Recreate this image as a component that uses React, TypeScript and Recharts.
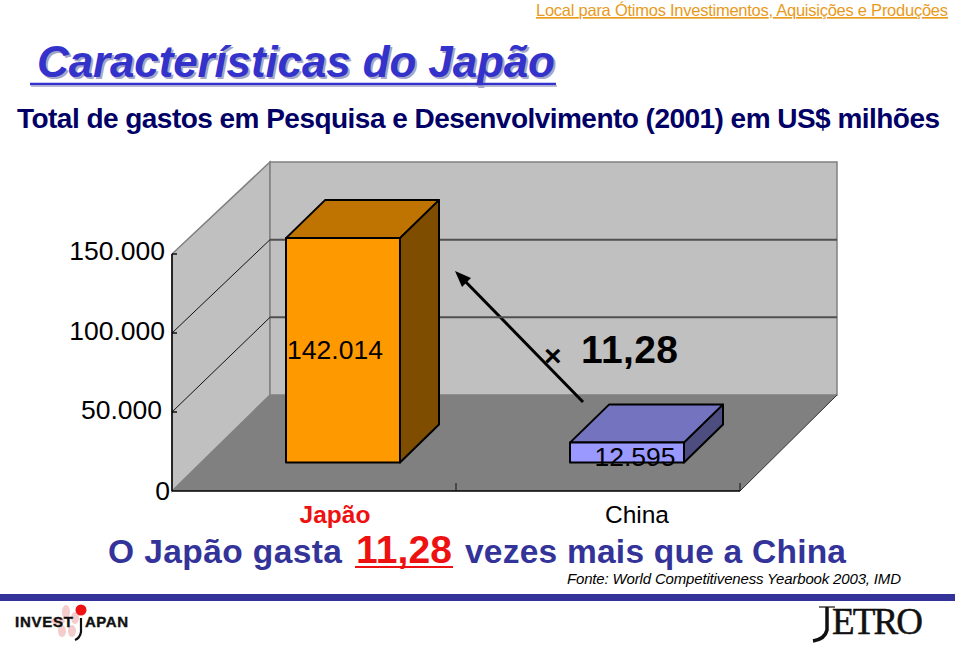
import React from 'react';
import { BarChart, Bar, XAxis, YAxis, CartesianGrid, Customized, LabelList } from 'recharts';

// Values
const countries = ['Japão', 'China'];
const spending = [142014, 12595];
const yTicks = [0, 50000, 100000, 150000];

const chartData = countries.map((name, i) => ({ name, value: spending[i] }));

// Plot box of the front plane, in page pixels
const left = 172;
const right = 740;
const top = 254;
const bottom = 491;
// Back wall of the 3D box
const backLeft = 270;
const backRight = 837;
const backTop = 162;
const backBottom = 395;
// Bars stand part way into the floor
const barDx = 29;
const barDy = -28.5;
// Depth of a bar
const depthX = 39;
const depthY = -38;

const barColors = [
  { front: '#ff9900', topFace: '#bf7300', side: '#7f4d00' },
  { front: '#9999ff', topFace: '#7373bf', side: '#4d4d7f' },
];

const formatNumber = (v: number) => String(v).replace(/\B(?=(\d{3})+(?!\d))/g, '.');

const toBackY = (y: number) => backBottom - ((bottom - y) * (backBottom - backTop)) / (bottom - top);

function Walls() {
  return (
    <g>
      <polygon
        points={`${left},${top} ${backLeft},${backTop} ${backLeft},${backBottom} ${left},${bottom}`}
        fill="#c0c0c0"
        stroke="#808080"
        strokeWidth={1.5}
      />
      <polygon
        points={`${backLeft},${backTop} ${backRight},${backTop} ${backRight},${backBottom} ${backLeft},${backBottom}`}
        fill="#c0c0c0"
        stroke="#808080"
        strokeWidth={1.5}
      />
      <polygon
        points={`${left},${bottom} ${backLeft},${backBottom} ${backRight},${backBottom} ${right},${bottom}`}
        fill="#808080"
      />
      <line x1={right} y1={bottom} x2={backRight} y2={backBottom} stroke="#333" strokeWidth={1} />
    </g>
  );
}

function WallGridLine(props: any) {
  const { y1 } = props;
  if (y1 > bottom - 1) return <g key={props.key} />;
  const isTop = y1 < top + 1;
  const by = toBackY(y1);
  return (
    <g key={props.key}>
      <line x1={left} y1={y1} x2={left + 5} y2={y1} stroke="#111" strokeWidth={1.5} />
      {!isTop && <line x1={left} y1={y1} x2={backLeft} y2={by} stroke="#111" strokeWidth={1} />}
      {!isTop && <line x1={backLeft} y1={by} x2={backRight} y2={by} stroke="#505050" strokeWidth={2} />}
    </g>
  );
}

function Bar3D(props: any) {
  const { x, y, width, height, index } = props;
  const c = barColors[index];
  const fx = x + barDx;
  const fy = y + barDy;
  const fb = fy + height;
  const fr = fx + width;
  return (
    <g stroke="#000" strokeWidth={2} strokeLinejoin="round">
      <polygon
        points={`${fx},${fy} ${fx + depthX},${fy + depthY} ${fr + depthX},${fy + depthY} ${fr},${fy}`}
        fill={c.topFace}
      />
      <polygon
        points={`${fr},${fy} ${fr + depthX},${fy + depthY} ${fr + depthX},${fb + depthY} ${fr},${fb}`}
        fill={c.side}
      />
      <rect x={fx} y={fy} width={width} height={height} fill={c.front} />
    </g>
  );
}

function BarValueLabel(props: any) {
  const { x, y, width, height, value, index } = props;
  const nudge = index === 0 ? -8 : 8;
  return (
    <text
      x={x + barDx + width / 2 + nudge}
      y={y + barDy + height / 2 + (index === 0 ? 9 : 13)}
      textAnchor="middle"
      fontFamily="Liberation Sans"
      fontSize={26.5}
      fill="#000"
    >
      {formatNumber(value)}
    </text>
  );
}

function YTick(props: any) {
  const { y, payload, index } = props;
  const endX = [170, 162, 165, 165][index];
  const dy = [9, 7, 7, 6][index];
  return (
    <text x={endX} y={y + dy} textAnchor="end" fontFamily="Liberation Sans" fontSize={26.5} fill="#000">
      {formatNumber(payload.value)}
    </text>
  );
}

function XTick(props: any) {
  const { x, payload, index } = props;
  const japan = index === 0;
  const bandEdge = x + (right - left) / countries.length / 2;
  return (
    <g>
      <line x1={bandEdge} y1={bottom} x2={bandEdge} y2={bottom - 8} stroke="#111" strokeWidth={1} />
      <text
        x={x + (japan ? 21 : 39)}
        y={523}
        textAnchor="middle"
        fontFamily="Liberation Sans"
        fontSize={24.5}
        fontWeight={japan ? 'bold' : 'normal'}
        fill={japan ? '#ee1111' : '#000'}
      >
        {payload.value}
      </text>
    </g>
  );
}

function Overlay() {
  const navy = '#000066';
  const blue = '#333399';
  const sans = 'Liberation Sans';
  return (
    <g fontFamily={sans}>
      <text x={536} y={16} fontSize={16.5} fill="#e89a1c" textDecoration="underline" textLength={412}>
        Local para Ótimos Investimentos, Aquisições e Produções
      </text>

      <text x={39} y={79} fontSize={44} fontWeight="bold" fontStyle="italic" fill="#a6a6c8" textLength={518}>
        Características do Japão
      </text>
      <text x={37} y={77} fontSize={44} fontWeight="bold" fontStyle="italic" fill="#3333cc" textLength={518}>
        Características do Japão
      </text>
      <line x1={30} y1={84} x2={556} y2={84} stroke="#3333cc" strokeWidth={2.5} />
      <line x1={31} y1={86} x2={557} y2={86} stroke="#a6a6c8" strokeWidth={1.5} />

      <text x={17} y={128} fontSize={28} fontWeight="bold" fill={navy} textLength={923}>
        Total de gastos em Pesquisa e Desenvolvimento (2001) em US$ milhões
      </text>

      <line x1={583} y1={402} x2={460} y2={276} stroke="#000" strokeWidth={3} />
      <polygon points="455,271 471,278 462,287" fill="#000" />
      <text x={544} y={366} fontSize={30} fontWeight="bold" fill="#000">×</text>
      <text x={581} y={363} fontSize={39} fontWeight="bold" fill="#000" textLength={97}>11,28</text>

      <text x={108} y={563} fontSize={33.5} fontWeight="bold" fill={blue} textLength={234}>O Japão gasta</text>
      <text x={356} y={563} fontSize={39} fontWeight="bold" fill="#ee1111" textLength={96}>11,28</text>
      <line x1={355} y1={567} x2={453} y2={567} stroke="#ee1111" strokeWidth={2} />
      <text x={465} y={563} fontSize={33.5} fontWeight="bold" fill={blue} textLength={381}>vezes mais que a China</text>
      <text x={567} y={584} fontSize={15} fontStyle="italic" fill="#000" textLength={334}>
        Fonte: World Competitiveness Yearbook 2003, IMD
      </text>

      <rect x={0} y={594} width={955} height={7} fill={blue} />

      {/* INVEST JAPAN logo */}
      <ellipse cx={66} cy={612} rx={4} ry={7} fill="#f5cccc" />
      <ellipse cx={75} cy={618} rx={4} ry={6} fill="#f5cccc" />
      <ellipse cx={58} cy={621} rx={7} ry={4} fill="#f5cccc" />
      <ellipse cx={62} cy={631} rx={4} ry={6} fill="#f5cccc" />
      <ellipse cx={72} cy={631} rx={4} ry={6} fill="#f5cccc" />
      <circle cx={81} cy={610} r={5.5} fill="#ee1111" />
      <text x={15} y={627} fontSize={15} fontWeight="bold" fill="#111" stroke="#111" strokeWidth={0.4} textLength={58}>INVEST</text>
      <path d="M81,618 L81,632 Q80,638 75,640" fill="none" stroke="#111" strokeWidth={2.2} />
      <text x={85} y={627} fontSize={15} fontWeight="bold" fill="#111" stroke="#111" strokeWidth={0.4} textLength={43}>APAN</text>

      {/* JETRO logo */}
      <path d="M827,607 L827,630 Q825,639 813,641" fill="none" stroke="#111" strokeWidth={3.5} />
      <line x1={819} y1={607} x2={835} y2={607} stroke="#111" strokeWidth={1.2} />
      <text x={832} y={634} fontFamily="Liberation Serif" fontSize={37} fill="#111" stroke="#111" strokeWidth={0.5} textLength={91}>ETRO</text>
    </g>
  );
}

export default function App() {
  return (
    <div style={{ position: 'absolute', left: 0, top: 0, width: 960, height: 645, background: '#fff' }}>
      <BarChart
        width={960}
        height={645}
        data={chartData}
        margin={{ top, right: 960 - right, bottom: 0, left: 0 }}
        barSize={114}
      >
        <Customized component={Walls} />
        {/* the grid sits below everything by default, lift it above the wall polygons */}
        <CartesianGrid vertical={false} horizontal={WallGridLine} zIndex={50} />
        <YAxis
          domain={[0, 150000]}
          ticks={yTicks}
          width={left}
          interval={0}
          axisLine={{ stroke: '#000', strokeWidth: 1.5 }}
          tickLine={false}
          tick={YTick}
        />
        <XAxis
          dataKey="name"
          height={645 - bottom}
          interval={0}
          axisLine={{ stroke: '#000', strokeWidth: 1.5 }}
          tickLine={false}
          tick={XTick}
        />
        <Bar dataKey="value" isAnimationActive={false} shape={Bar3D}>
          <LabelList dataKey="value" content={BarValueLabel} />
        </Bar>
        <Customized component={Overlay} />
      </BarChart>
    </div>
  );
}
